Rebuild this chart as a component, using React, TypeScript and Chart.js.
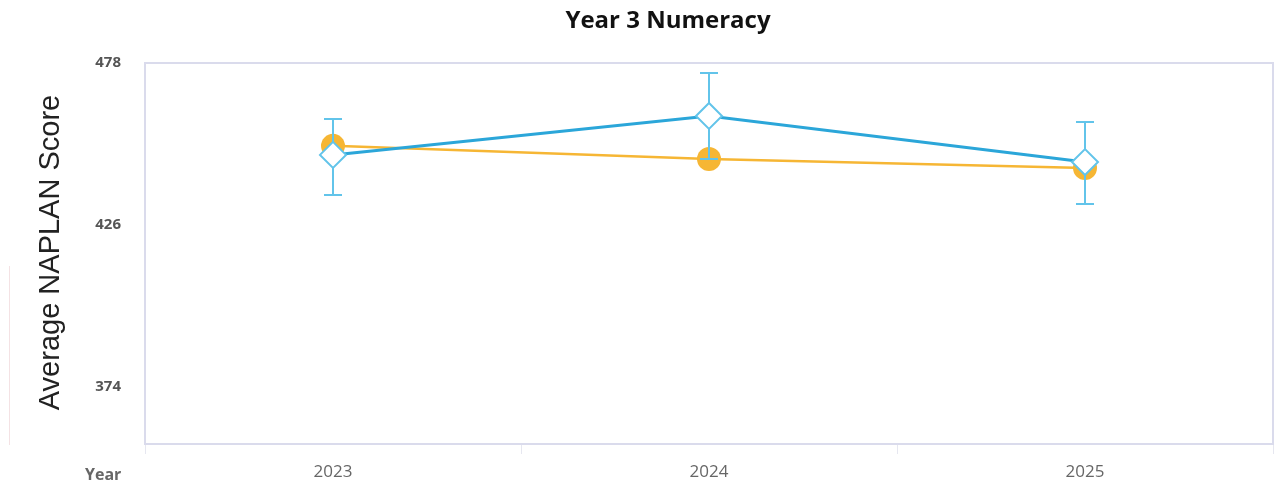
import React, { useEffect, useRef } from "react";
import { Chart, registerables } from "chart.js";

Chart.register(...registerables);

const years = ["2023", "2024", "2025"];
const schoolScores = [451.4, 447.2, 444.3];
const comparisonScores = [448.5, 461.0, 446.2];
const comparisonLow = [435.6, 447.2, 432.7];
const comparisonHigh = [460.0, 474.8, 459.1];
const yTicks = [374, 426, 478];

const chartTitle = "Year 3 Numeracy";
const yTitle = "Average NAPLAN Score";
const xTitle = "Year";

const ORANGE = "#f6b634";
const BLUE = "#2ba6d9";
const ERR = "#62c4ea";
const FRAME = "#dadbec";

const W = 1266;
const H = 476;

const decorations = {
  id: "decorations",
  beforeDatasetDraw(chart: any, args: any) {
    if (args.index !== 1) return;
    const { ctx } = chart;
    const x = chart.scales.x;
    const y = chart.scales.y;
    ctx.save();
    ctx.strokeStyle = ERR;
    ctx.lineWidth = 2;
    comparisonLow.forEach((lo, i) => {
      const px = x.getPixelForValue(i);
      const top = y.getPixelForValue(comparisonHigh[i]);
      const bot = y.getPixelForValue(lo);
      ctx.beginPath();
      ctx.moveTo(px, top);
      ctx.lineTo(px, bot);
      ctx.moveTo(px - 9, top);
      ctx.lineTo(px + 9, top);
      ctx.moveTo(px - 9, bot);
      ctx.lineTo(px + 9, bot);
      ctx.stroke();
    });
    ctx.restore();
  },
  beforeDatasetsDraw(chart: any) {
    const { ctx, chartArea: a } = chart;
    ctx.save();
    ctx.strokeStyle = FRAME;
    ctx.lineWidth = 2;
    ctx.strokeRect(a.left, a.top, a.right - a.left, a.bottom - a.top);
    ctx.restore();
  },
  afterDraw(chart: any) {
    const { ctx, chartArea: a } = chart;
    ctx.save();
    ctx.fillStyle = "#111";
    ctx.font = "bold 24px 'Open Sans'";
    ctx.textAlign = "center";
    ctx.textBaseline = "middle";
    ctx.fillText(chartTitle, 660, 13);

    ctx.fillStyle = "#666";
    ctx.font = "bold 16px 'Open Sans'";
    ctx.textAlign = "left";
    ctx.fillText(xTitle, 77, a.bottom + 31);

    ctx.translate(43, (a.top + a.bottom) / 2 - 1);
    ctx.rotate(-Math.PI / 2);
    ctx.fillStyle = "#222";
    ctx.font = "29px 'Liberation Sans'";
    ctx.textAlign = "center";
    ctx.fillText(yTitle, 0, 0);
    ctx.restore();

    ctx.save();
    ctx.strokeStyle = "#f4e2e4";
    ctx.lineWidth = 1;
    ctx.beginPath();
    ctx.moveTo(1.5, 258);
    ctx.lineTo(1.5, 437);
    ctx.stroke();
    ctx.restore();
  },
};

export default function App() {
  const ref = useRef<HTMLCanvasElement | null>(null);

  useEffect(() => {
    if (!ref.current) return;
    const chart = new Chart(ref.current, {
      type: "line",
      data: {
        labels: years,
        datasets: [
          {
            label: "School",
            data: schoolScores,
            borderColor: ORANGE,
            backgroundColor: ORANGE,
            borderWidth: 2.5,
            pointStyle: "circle",
            pointRadius: 12,
            pointBorderWidth: 0,
            pointBackgroundColor: ORANGE,
            order: 2,
          },
          {
            label: "Comparison",
            data: comparisonScores,
            borderColor: BLUE,
            backgroundColor: "#ffffff",
            borderWidth: 3,
            pointStyle: "rectRot",
            pointRadius: 13,
            pointBorderWidth: 2,
            pointBorderColor: ERR,
            pointBackgroundColor: "#ffffff",
            order: 1,
          },
        ],
      },
      options: {
        animation: false,
        responsive: false,
        maintainAspectRatio: false,
        devicePixelRatio: 1,
        layout: { autoPadding: false, padding: { left: 0, right: 1, top: 55, bottom: 0 } },
        plugins: {
          legend: { display: false },
          title: { display: false },
          tooltip: { enabled: false },
        },
        scales: {
          x: {
            offset: true,
            grid: {
              offset: true,
              drawOnChartArea: false,
              drawTicks: true,
              tickLength: 10,
              color: "#e6e7f0",
            },
            border: { display: false },
            ticks: {
              color: "#666",
              font: { family: "'Open Sans'", size: 17 },
              padding: 8,
            },
            afterFit(scale: any) {
              scale.height = 40;
            },
          },
          y: {
            min: 355.7,
            max: 478,
            grid: { display: false, drawTicks: false },
            border: { display: false },
            afterBuildTicks(scale: any) {
              scale.ticks = yTicks.map((v) => ({ value: v }));
            },
            ticks: {
              color: "#555",
              font: { family: "'Open Sans'", size: 15, weight: "bold" },
              padding: 24,
            },
            afterFit(scale: any) {
              scale.width = 137;
            },
          },
        },
      },
      plugins: [decorations],
    });
    return () => chart.destroy();
  }, []);

  return (
    <div style={{ width: W, height: H }}>
      <canvas ref={ref} width={W} height={H} style={{ display: "block" }} />
    </div>
  );
}
